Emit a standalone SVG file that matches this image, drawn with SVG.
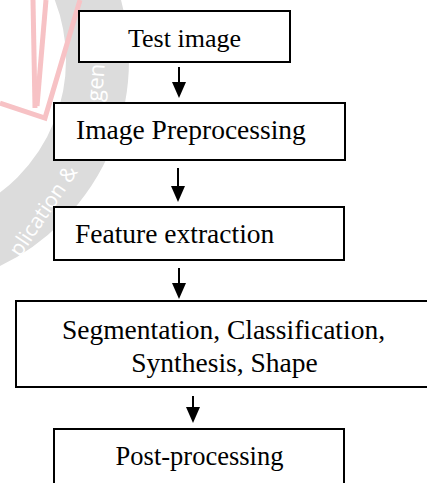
<svg xmlns="http://www.w3.org/2000/svg" width="427" height="483" viewBox="0 0 427 483">
  <style>
    .box { fill: #ffffff; stroke: #000000; stroke-width: 2; }
    .lbl { font-family: "Liberation Serif", "Times New Roman", serif; fill: #000000; }
    .conn { stroke: #000000; stroke-width: 2; fill: none; }
    .wm { font-family: "Open Sans", "Liberation Sans", sans-serif; fill: #ffffff; }
  </style>
  <defs>
    <marker id="arrow" markerUnits="userSpaceOnUse" viewBox="0 0 16 14" refX="8" refY="7" markerWidth="16" markerHeight="14" orient="auto">
      <path d="M0,0 L16,7 L0,14 z" fill="#000000"/>
    </marker>
  </defs>
  <rect x="0" y="0" width="427" height="483" fill="#ffffff"/>
  <g id="watermark">
    <circle cx="-100" cy="60" r="197.5" fill="none" stroke="#dcdcdc" stroke-width="63"/>
    <g fill="none" stroke="#f7c2c5" stroke-width="5" stroke-linejoin="miter">
      <path d="M33,0 L35,108"/>
      <path d="M46,0 L37,106"/>
      <path d="M0,103 L45,118 L80,0"/>
    </g>
    <text class="wm" font-size="21" transform="translate(20,258) rotate(-56)">plication &amp;</text>
    <text class="wm" font-size="22" transform="translate(102,102) rotate(-86)">gen</text>
  </g>
  <g id="connectors">
    <line class="conn" x1="179" y1="67" x2="179" y2="90" marker-end="url(#arrow)"/>
    <line class="conn" x1="178" y1="168" x2="178" y2="194" marker-end="url(#arrow)"/>
    <line class="conn" x1="179" y1="268" x2="179" y2="291" marker-end="url(#arrow)"/>
    <line class="conn" x1="193" y1="396" x2="193" y2="415" marker-end="url(#arrow)"/>
  </g>
  <g id="node-test-image">
    <rect class="box" x="79" y="11" width="211" height="51"/>
    <text class="lbl" x="184.5" y="47" font-size="26" text-anchor="middle">Test image</text>
  </g>
  <g id="node-preprocessing">
    <rect class="box" x="54" y="103" width="291" height="57"/>
    <text class="lbl" x="76" y="139" font-size="27.5">Image Preprocessing</text>
  </g>
  <g id="node-feature">
    <rect class="box" x="54" y="207" width="290" height="53"/>
    <text class="lbl" x="75" y="243" font-size="27.5">Feature extraction</text>
  </g>
  <g id="node-segmentation">
    <rect class="box" x="16" y="301" width="430" height="86"/>
    <text class="lbl" x="223.5" y="339" font-size="27.5" text-anchor="middle">Segmentation, Classification,</text>
    <text class="lbl" x="224.5" y="372" font-size="27.5" text-anchor="middle">Synthesis, Shape</text>
  </g>
  <g id="node-postprocessing">
    <rect class="box" x="54" y="429" width="290" height="80"/>
    <text class="lbl" x="199.5" y="465" font-size="26.5" text-anchor="middle">Post-processing</text>
  </g>
</svg>
